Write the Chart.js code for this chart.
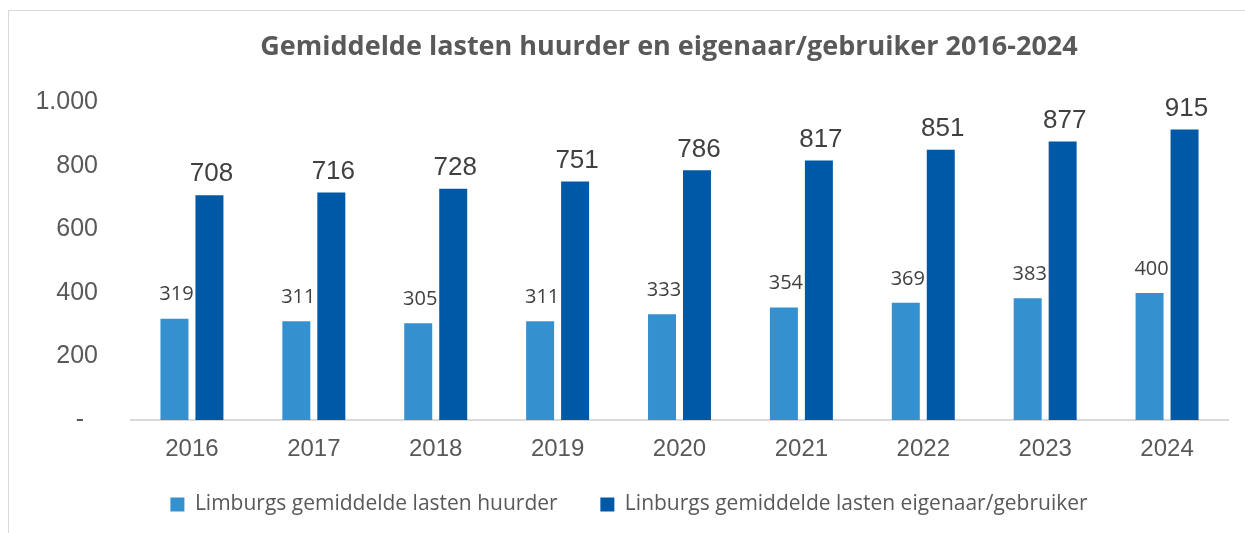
<!DOCTYPE html>
<html>
<head>
<meta charset="utf-8">
<script src="https://cdn.jsdelivr.net/npm/chart.js@4/dist/chart.umd.min.js"></script>
<style>
  body { margin: 0; background: #fff; }
  #frame {
    position: absolute; left: 8px; top: 10px; width: 1260px; height: 540px;
    border-left: 1px solid #d9d9d9; border-top: 1px solid #d9d9d9;
  }
  #wrap { position: absolute; left: 0; top: 0; width: 1245px; height: 533px; }
</style>
</head>
<body>
<div id="frame"></div>
<div id="wrap"><canvas id="myChart"></canvas></div>
<script>
const labels = ['2016', '2017', '2018', '2019', '2020', '2021', '2022', '2023', '2024'];
const huurder = [319, 311, 305, 311, 333, 354, 369, 383, 400];
const eigenaar = [708, 716, 728, 751, 786, 817, 851, 877, 915];
const yTicks = [0, 200, 400, 600, 800, 1000];

const data = {
  labels: labels,
  datasets: [{
    label: 'Limburgs gemiddelde lasten huurder',
    backgroundColor: '#3490CF',
    data: huurder,
    labelFont: '20px "Open Sans"',
    labelGap: 14
  }, {
    label: 'Linburgs gemiddelde lasten eigenaar/gebruiker',
    backgroundColor: '#0059A6',
    data: eigenaar,
    labelFont: '26px "Liberation Sans"',
    labelGap: 8
  }]
};

// waarden boven de staven
const barLabels = {
  id: 'barLabels',
  afterDatasetsDraw(chart) {
    const ctx = chart.ctx;
    ctx.save();
    ctx.fillStyle = '#404040';
    ctx.textAlign = 'center';
    ctx.textBaseline = 'bottom';
    chart.data.datasets.forEach((ds, i) => {
      ctx.font = ds.labelFont;
      chart.getDatasetMeta(i).data.forEach((bar, j) => {
        ctx.fillText(ds.data[j], bar.x + 2, bar.y - ds.labelGap);
      });
    });
    ctx.restore();
  }
};

const config = {
  type: 'bar',
  data: data,
  plugins: [barLabels],
  options: {
    responsive: true,
    maintainAspectRatio: false,
    animation: false,
    categoryPercentage: 0.574,
    barPercentage: 0.8,
    layout: { padding: { left: 30, right: 17, top: 31, bottom: 8 } },
    plugins: {
      title: {
        display: true,
        fullSize: false,
        text: 'Gemiddelde lasten huurder en eigenaar/gebruiker 2016-2024   ',
        color: '#595959',
        font: { family: '"Open Sans"', size: 27, weight: 'bold' },
        padding: { top: 0, bottom: 39 }
      },
      legend: {
        position: 'bottom',
        labels: {
          color: '#595959',
          font: { family: '"Open Sans"', size: 21 },
          boxWidth: 14,
          boxHeight: 14,
          padding: 10,
          generateLabels(chart) {
            const items = Chart.defaults.plugins.legend.labels.generateLabels(chart);
            items[0].text += '      ';
            return items;
          }
        }
      },
      tooltip: { enabled: false }
    },
    scales: {
      x: {
        grid: { display: false, drawTicks: false },
        border: { display: true, color: '#d9d9d9', width: 2 },
        ticks: {
          color: '#595959',
          font: { family: '"Liberation Sans"', size: 24 },
          padding: 15
        },
        afterFit(axis) { axis.height = 64; }
      },
      y: {
        min: 0,
        max: 1000,
        grid: { display: false, drawTicks: false },
        border: { display: false },
        afterBuildTicks(axis) { axis.ticks = yTicks.map(v => ({ value: v })); },
        ticks: {
          color: '#595959',
          font: { family: '"Liberation Sans"', size: 25 },
          padding: 33,
          callback: v => v === 0 ? '-  ' : v.toLocaleString('nl-NL')
        },
        afterFit(axis) { axis.width = 101; }
      }
    }
  }
};

const myChart = new Chart(document.getElementById('myChart'), config);
</script>
</body>
</html>
